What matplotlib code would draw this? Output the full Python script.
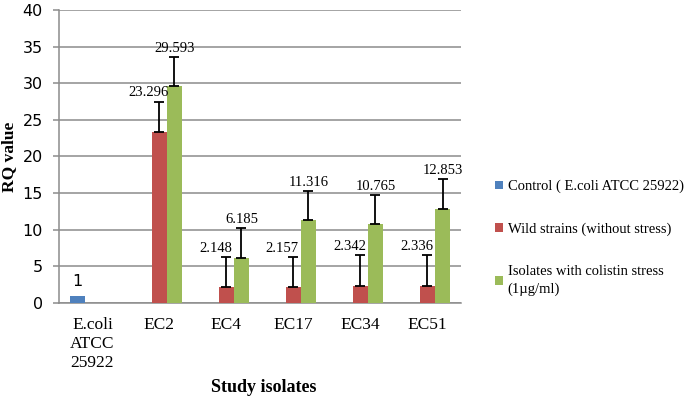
import numpy as np
import matplotlib.pyplot as plt

categories = ['E.coli\nATCC\n25922', 'EC2', 'EC4', 'EC17', 'EC34', 'EC51']
control = [1]
wild = [23.296, 2.148, 2.157, 2.342, 2.336]
colistin = [29.593, 6.185, 11.316, 10.765, 12.853]
wild_err = [4.2, 4.15, 4.15, 4.15, 4.15]
colistin_err = [4.0, 4.0, 4.0, 4.0, 4.05]

blue, red, green = '#4F81BD', '#C0504D', '#9BBB59'
serif = 'Liberation Serif'

fig = plt.figure(figsize=(6.85, 3.97), dpi=100)
ax = fig.add_axes([0.086, 0.237, 0.587, 0.738])

x = np.arange(len(categories))
w = 0.224
xs = x[1:]

ax.bar(x[0] - w, control, w, color=blue, label='Control ( E.coli ATCC 25922)', zorder=3)
ax.bar(xs, wild, w, color=red, label='Wild strains (without stress)', zorder=3,
       yerr=[[0] * len(wild), wild_err], error_kw=dict(ecolor='black', elinewidth=1.3, capsize=3.5, capthick=1.3))
ax.bar(xs + w, colistin, w, color=green, label='Isolates with colistin stress\n(1µg/ml)', zorder=3,
       yerr=[[0] * len(colistin), colistin_err], error_kw=dict(ecolor='black', elinewidth=1.3, capsize=3.5, capthick=1.3))

# data labels
ax.annotate('1', (x[0] - w, control[0]), xytext=(0, 5), textcoords='offset points',
            ha='center', va='bottom', fontsize=11.5)
for xi, v, e in zip(xs, wild, wild_err):
    ax.annotate(f'{v:.3f}', (xi, v + e), xytext=(-8, 1.5), textcoords='offset points',
                ha='center', va='bottom', fontsize=10.5, family=serif)
for xi, v, e in zip(xs + w, colistin, colistin_err):
    ax.annotate(f'{v:.3f}', (xi, v + e), xytext=(0, 1.5), textcoords='offset points',
                ha='center', va='bottom', fontsize=10.5, family=serif)

ax.set_xlim(-0.5, len(categories) - 0.5)
ax.set_ylim(0, 40)
ax.set_yticks(range(0, 41, 5))
ax.yaxis.grid(True, color='#8c8c8c', linewidth=1.1, zorder=0)
ax.set_axisbelow(True)
ax.set_xticks(x)
ax.set_xticklabels(categories, family=serif, fontsize=12.5, linespacing=1.25)
ax.tick_params(axis='x', length=0, pad=10)
ax.tick_params(axis='y', length=4.5, color='#8c8c8c', width=1.1, labelsize=11.5, pad=7)
for s in ['top', 'right']:
    ax.spines[s].set_visible(False)
for s in ['left', 'bottom']:
    ax.spines[s].set_color('#8c8c8c')
    ax.spines[s].set_linewidth(1.1)

ax.set_ylabel('RQ value', family=serif, fontsize=12.5, fontweight='bold', labelpad=4)
fig.text(0.385, 0.025, 'Study isolates', family=serif, fontsize=13, fontweight='bold',
         ha='center', va='center')

leg = fig.legend(loc='upper left', bbox_to_anchor=(0.703, 0.58), frameon=False,
                 prop={'family': serif, 'size': 10.5}, handlelength=0.55, handleheight=0.55,
                 handletextpad=0.35, labelspacing=2.0)
for t in leg.get_texts():
    t.set_linespacing(1.45)

fig.savefig('out.png', dpi=100)
